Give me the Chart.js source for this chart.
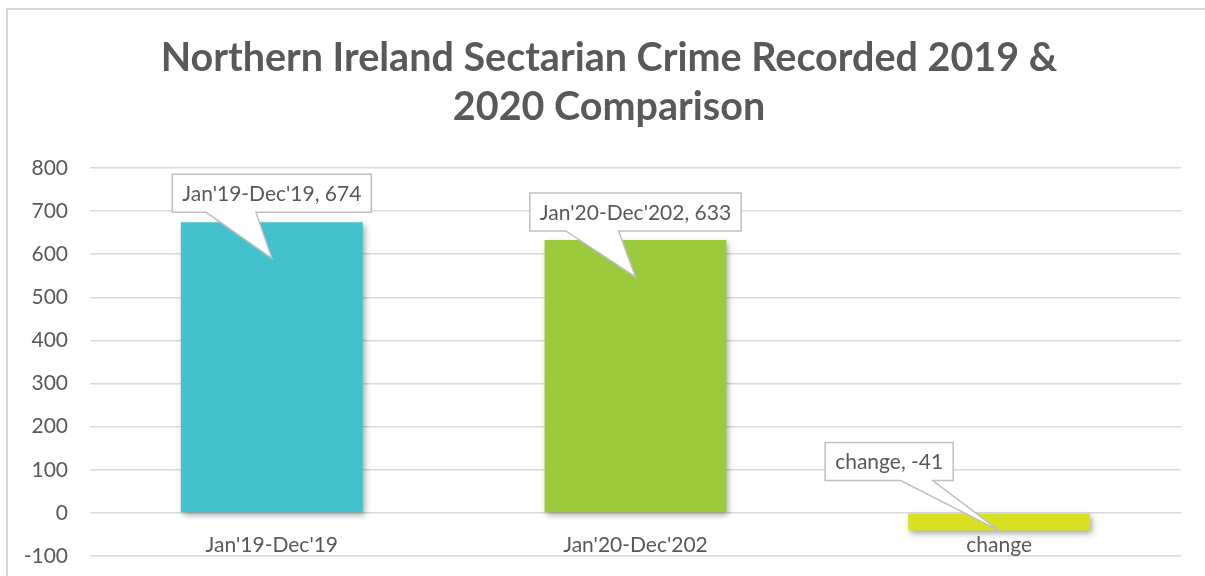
<!DOCTYPE html>
<html>
<head>
<meta charset="utf-8">
<script src="https://cdn.jsdelivr.net/npm/chart.js@4"></script>
<style>
html, body { margin: 0; padding: 0; background: #fff; overflow: hidden; }
#wrap { position: relative; width: 1205px; height: 576px; overflow: hidden; }
#frame { position: absolute; left: 6px; top: 8px; right: 0; bottom: 0; border-top: 2px solid #d9d9d9; border-left: 2px solid #d9d9d9; pointer-events: none; }
</style>
</head>
<body>
<div id="wrap">
  <canvas id="chart" width="1205" height="576"></canvas>
  <div id="frame"></div>
</div>
<script>
// Datos
const categories = ["Jan'19-Dec'19", "Jan'20-Dec'202", "change"];
const crimeCounts = [674, 633, -41];
const yMin = -100;
const yMax = 800;
const yStep = 100;
const titleLines = ["Northern Ireland Sectarian Crime Recorded 2019 &", "2020 Comparison"];

const barColors = ["#43c1cd", "#9bca3c", "#d9e021"];
const textGrey = "#595959";
const FONT = "Lato, 'Open Sans', sans-serif";
const LABEL_SIZE = 21;

// Estilo de las etiquetas tipo "bocadillo" (posición relativa a la barra)
const calloutStyle = [
  { dx: 0, gap: 10, tipY: 36, base: [0.17, 0.42] },
  { dx: 0, gap: 9, tipY: 37, base: [0.17, 0.42] },
  { dx: -110, gap: 50, tipY: 0, base: [0.59, 0.84] }
];

// Título centrado sobre todo el gráfico (Excel lo centra en el marco completo)
const chartTitle = {
  id: "chartTitle",
  afterDraw(chart) {
    const c = chart.ctx;
    c.save();
    c.font = "bold 39.5px " + FONT;
    c.fillStyle = textGrey;
    c.textAlign = "center";
    c.textBaseline = "alphabetic";
    c.fillText(titleLines[0], 609, 71);
    c.fillText(titleLines[1], 609, 120);
    c.restore();
  }
};

// Sombra suave bajo las barras
const barShadow = {
  id: "barShadow",
  beforeDatasetsDraw(chart) {
    const c = chart.ctx;
    c.save();
    c.shadowColor = "rgba(0,0,0,0.35)";
    c.shadowBlur = 6;
    c.shadowOffsetX = 2;
    c.shadowOffsetY = 3;
  },
  afterDatasetsDraw(chart) {
    chart.ctx.restore();
  }
};

// Etiquetas de categoría junto al eje 0 (como en Excel)
const categoryLabels = {
  id: "categoryLabels",
  afterDatasetsDraw(chart) {
    const c = chart.ctx;
    const x = chart.scales.x, y = chart.scales.y;
    const y0 = y.getPixelForValue(0);
    c.save();
    c.font = LABEL_SIZE + "px " + FONT;
    c.fillStyle = textGrey;
    c.textAlign = "center";
    c.textBaseline = "middle";
    categories.forEach((cat, i) => {
      c.fillText(cat, x.getPixelForValue(i), y0 + 32);
    });
    c.restore();
  }
};

// Bocadillos con "categoría, valor"
const callouts = {
  id: "callouts",
  afterDraw(chart) {
    const c = chart.ctx;
    const meta = chart.getDatasetMeta(0);
    c.save();
    c.font = LABEL_SIZE + "px " + FONT;
    meta.data.forEach((bar, i) => {
      const st = calloutStyle[i];
      const text = categories[i] + ", " + crimeCounts[i];
      const w = c.measureText(text).width + 20;
      const h = 38;
      const bottom = bar.y - st.gap;
      const top = bottom - h;
      const left = bar.x + st.dx - w / 2;
      const right = left + w;
      const tipX = bar.x, tipY = bar.y + st.tipY;
      const b1 = left + w * st.base[0], b2 = left + w * st.base[1];

      c.beginPath();
      c.moveTo(left, top);
      c.lineTo(right, top);
      c.lineTo(right, bottom);
      c.lineTo(b2, bottom);
      c.lineTo(tipX, tipY);
      c.lineTo(b1, bottom);
      c.lineTo(left, bottom);
      c.closePath();
      c.fillStyle = "#fff";
      c.fill();
      c.lineWidth = 1.5;
      c.strokeStyle = "#bfbfbf";
      c.stroke();

      c.fillStyle = textGrey;
      c.textAlign = "center";
      c.textBaseline = "middle";
      c.fillText(text, (left + right) / 2, (top + bottom) / 2 + 1);
    });
    c.restore();
  }
};

new Chart(document.getElementById("chart"), {
  type: "bar",
  data: {
    labels: categories,
    datasets: [{
      data: crimeCounts,
      backgroundColor: barColors,
      borderWidth: 0,
      categoryPercentage: 1,
      barPercentage: 0.5
    }]
  },
  options: {
    responsive: false,
    animation: false,
    devicePixelRatio: 1,
    layout: { padding: { left: 0, right: 24, top: 168, bottom: 20 } },
    plugins: {
      legend: { display: false },
      tooltip: { enabled: false },
      title: { display: false }
    },
    scales: {
      x: { display: false },
      y: {
        min: yMin,
        max: yMax,
        ticks: {
          stepSize: yStep,
          color: textGrey,
          font: { family: FONT, size: LABEL_SIZE },
          padding: 22
        },
        grid: { color: "#d9d9d9", lineWidth: 1.5, drawTicks: false },
        border: { display: false },
        afterFit(scale) {
          scale.width = 90;
          scale.paddingTop = 0;
          scale.paddingBottom = 0;
        }
      }
    }
  },
  plugins: [barShadow, categoryLabels, callouts, chartTitle]
});
</script>
</body>
</html>
